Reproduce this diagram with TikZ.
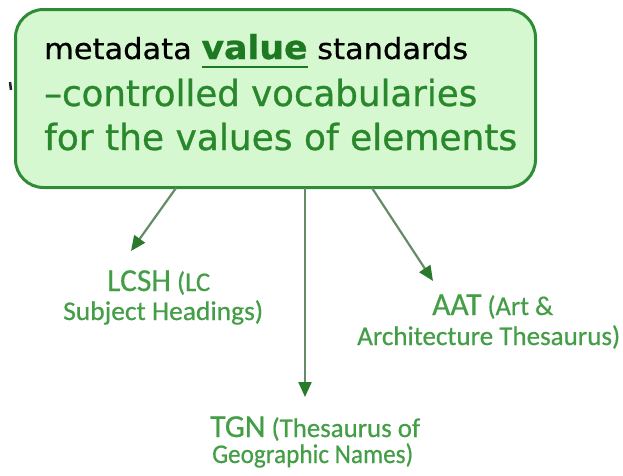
\documentclass[tikz,border=0pt]{standalone}
\usepackage{fontspec}
\usepackage{graphicx}
\usetikzlibrary{arrows.meta}
\setmainfont{Carlito}[FakeBold=0.6]
\newfontfamily\headfont{DejaVu Sans}[FakeBold=0.8]
\newfontfamily\plainfont{DejaVu Sans}[FakeBold=0.6]

\definecolor{boxfill}{HTML}{D6F8D0}
\definecolor{boxline}{HTML}{2E8B36}
\definecolor{vocab}{HTML}{2A882C}
\definecolor{valgreen}{HTML}{1E7A22}
\definecolor{lblgreen}{HTML}{449E47}
\definecolor{shaft}{HTML}{668C66}
\definecolor{tipgreen}{HTML}{2A7A2C}

% stretch a line of text to a given width, keeping its height
\newcommand\fitline[2]{\resizebox{#1pt}{\height}{#2}}
% underlined word with the rule set a little below the baseline
\newcommand\ulword[1]{\setbox0\hbox{#1}\rlap{\rule[-9pt]{\wd0}{2.2pt}}\box0}
\newcommand\bigword[1]{{\fontsize{32}{36}\selectfont #1}}

\begin{document}
\begin{tikzpicture}[x=1pt,y=-1pt,
  line/.style={anchor=base west, inner sep=0pt},
  vocabline/.style={line, text=vocab, font=\headfont\fontsize{36}{42}\selectfont},
  lbl/.style={anchor=base west, inner sep=0pt, text=lblgreen, font=\fontsize{27}{30}\selectfont},
  conn/.style={draw=shaft, line width=2.2pt, -{Triangle[length=15pt,width=13pt,color=tipgreen]}}]
\useasboundingbox (0,0) rectangle (623,475);

% standards box
\node[draw=boxline, line width=3pt, fill=boxfill, rounded corners=28pt,
      minimum width=520pt, minimum height=178pt, anchor=north west, inner sep=0pt]
      (box) at (14,8) {};
\draw[line width=2.5pt, black!85] (10,82) -- (11,90);

\node[line, font=\plainfont\fontsize{29}{32}\selectfont] (t1) at (44,59)
  {\fitline{424}{metadata \textcolor{valgreen}{\headfont\bfseries\fontsize{33}{36}\selectfont\ulword{value}} standards}};
\node[vocabline] (t2) at (44,106) {\fitline{433}{–controlled vocabularies}};
\node[vocabline] (t3) at (44,150) {\fitline{473}{for the values of elements}};

% vocabularies
\node[lbl] (lcshA) at (107,291) {\fitline{103}{\bigword{LCSH} (LC}};
\node[lbl] (lcshB) at (63,320) {\fitline{200}{Subject Headings)}};
\node[lbl] (aatA) at (432,315) {\fitline{121}{\bigword{AAT} (Art \&}};
\node[lbl] (aatB) at (357,345) {\fitline{263}{Architecture Thesaurus)}};
\node[lbl] (tgnA) at (210,437) {\fitline{210}{\bigword{TGN} (Thesaurus of}};
\node[lbl] (tgnB) at (212,463) {\fitline{201}{Geographic Names)}};

% connectors
\coordinate (s1) at (176,188);
\coordinate (e1) at (131,251);
\coordinate (s2) at (305,188);
\coordinate (e2) at (305,397);
\coordinate (s3) at (372,188);
\coordinate (e3) at (433,281);
\draw[conn] (s1) -- (e1);
\draw[conn] (s2) -- (e2);
\draw[conn] (s3) -- (e3);
\end{tikzpicture}
\end{document}
